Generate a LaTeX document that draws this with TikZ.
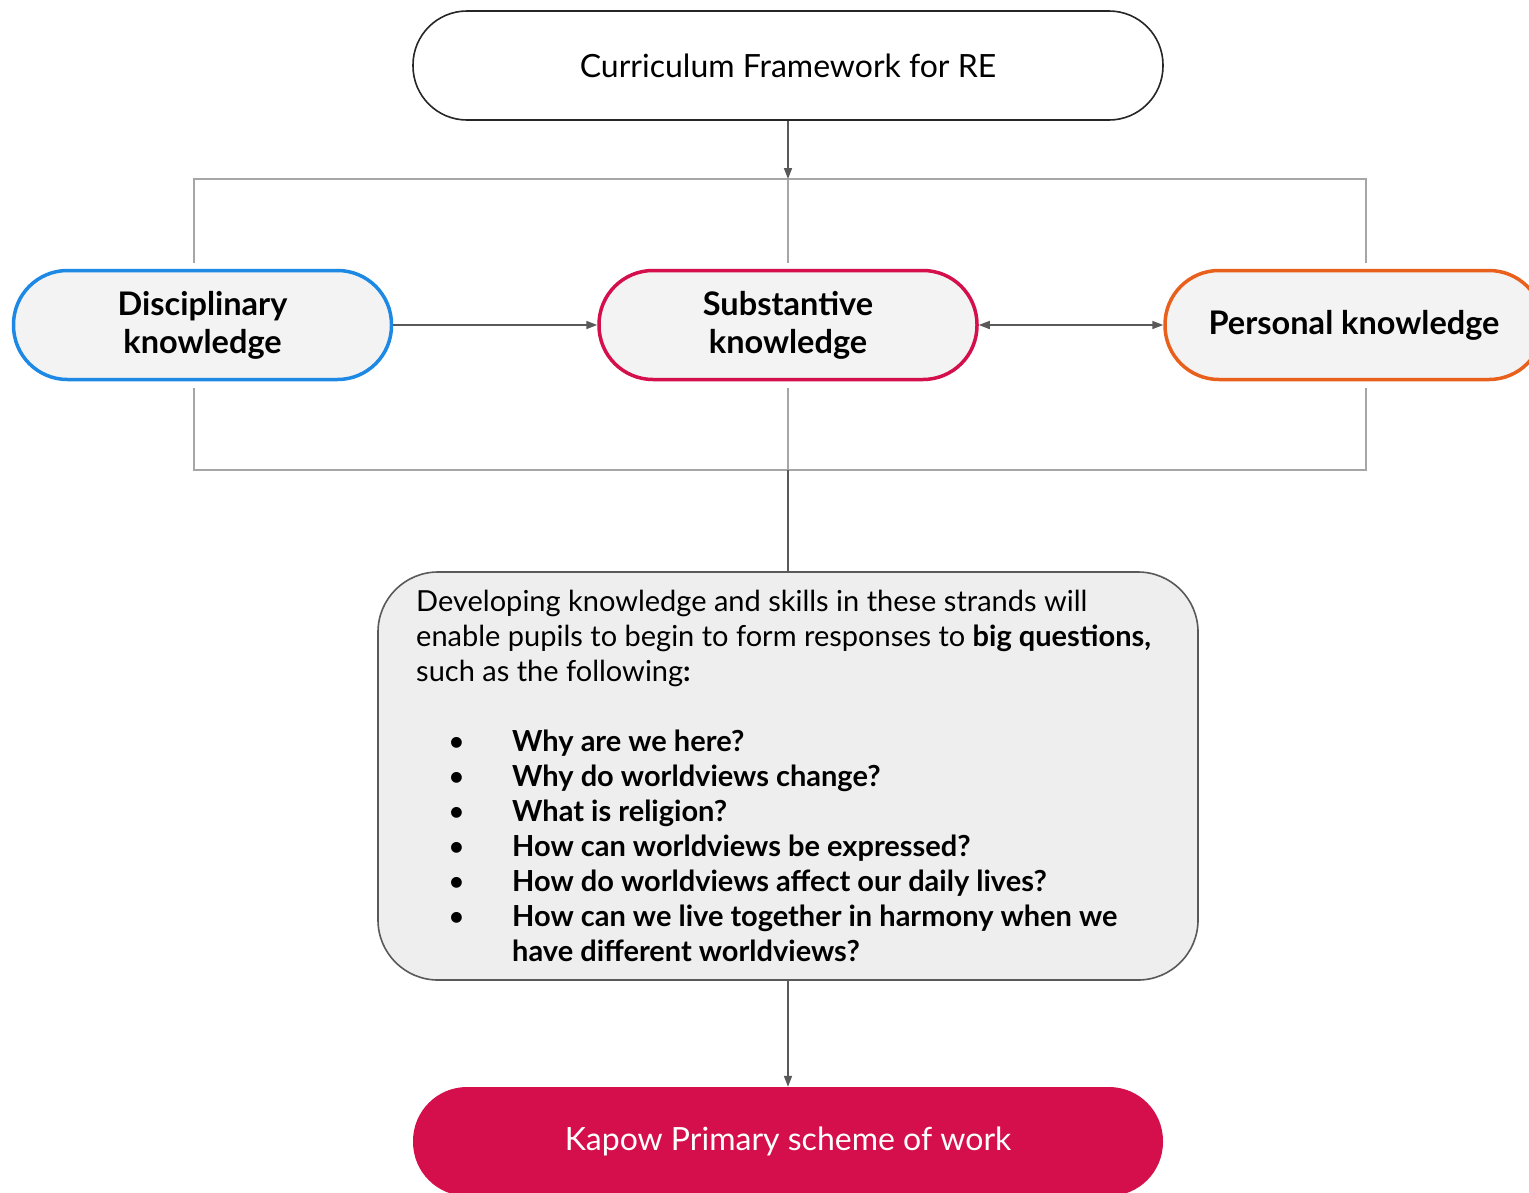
\documentclass[tikz,border=0pt]{standalone}
\usepackage{fontspec}
\setmainfont{Lato}
\usetikzlibrary{arrows.meta,calc}
\definecolor{connc}{HTML}{595959}
\definecolor{framec}{HTML}{A6A6A6}
\definecolor{bluec}{HTML}{1E88E5}
\definecolor{crimc}{HTML}{D50F4B}
\definecolor{orangec}{HTML}{E8601C}
\definecolor{pillfill}{HTML}{F3F3F3}
\definecolor{bigfill}{HTML}{EEEEEE}
\definecolor{bigdraw}{HTML}{595959}
\tikzset{
  pill/.style={rectangle, rounded corners=54pt, minimum height=109pt, inner sep=0pt, align=center},
  strand/.style={pill, minimum width=378pt, fill=pillfill, line width=3.5pt, font=\fontsize{32.5}{38}\selectfont\bfseries},
  conn/.style={draw=connc, line width=1.6pt},
  arr/.style={conn, -{Triangle[length=11pt,width=8pt]}},
  darr/.style={conn, {Triangle[length=11pt,width=8pt]}-{Triangle[length=11pt,width=8pt]}},
  framel/.style={draw=framec, line width=1.8pt},
}
\newcommand\bqitem[1]{\makebox[32pt][l]{}\makebox[64pt][l]{\textbullet}\textbf{#1}}
\begin{document}
\begin{tikzpicture}[x=1pt,y=-1pt]
\useasboundingbox (0,0) rectangle (1529,1192);
\fill[white] (0,0) rectangle (1529,1192);

\node[pill, minimum width=750pt, draw=black!85, line width=1.6pt, fill=white,
  font=\fontsize{32}{38}\selectfont] (top) at (788,65.5) {Curriculum Framework for RE};

\node[strand, draw=bluec] (disc) at (202.5,325) {Disciplinary\\knowledge};
\node[strand, draw=crimc] (sub) at (788,325) {Substantive\\knowledge};
\node[strand, draw=orangec] (pers) at (1354,325) {Personal knowledge};

% frame coordinates
\coordinate (ftl) at (194,179);
\coordinate (ftm) at (788,179);
\coordinate (ftr) at (1366,179);
\coordinate (fbl) at (194,470);
\coordinate (fbm) at (788,470);
\coordinate (fbr) at (1366,470);
\coordinate (lu) at (194,263);
\coordinate (ll) at (194,388);
\coordinate (mu) at (788,263);
\coordinate (ml) at (788,388);
\coordinate (ru) at (1366,263);
\coordinate (rl) at (1366,388);

\draw[framel] (lu) -- (ftl) -- (ftr) -- (ru);
\draw[framel] (ftm) -- (mu);
\draw[framel] (ll) -- (fbl) -- (fbr) -- (rl);
\draw[framel] (ml) -- (fbm);

\draw[arr] (top.south) -- (ftm);
\draw[arr] (disc.east) -- (sub.west);
\draw[darr] (sub.east) -- (pers.west);

\node[rectangle, rounded corners=60pt, minimum width=820pt, minimum height=408pt,
  fill=bigfill, draw=bigdraw, line width=1.6pt] (big) at (788,776) {};
\node[anchor=base west, align=left, inner sep=0pt,
  font=\fontsize{29}{35}\selectfont] (bigtext) at (416,961) {%
Developing knowledge and skills in these strands will\\
enable pupils to begin to form responses to \textbf{big questions,}\\
such as the following\textbf{:}\\[35pt]
\bqitem{Why are we here?}\\
\bqitem{Why do worldviews change?}\\
\bqitem{What is religion?}\\
\bqitem{How can worldviews be expressed?}\\
\bqitem{How do worldviews affect our daily lives?}\\
\bqitem{How can we live together in harmony when we}\\
\makebox[96pt][l]{}\textbf{have different worldviews?}};

\draw[conn] (fbm) -- (big.north);

\node[pill, minimum width=750pt, fill=crimc, text=white,
  font=\fontsize{32}{38}\selectfont] (kapow) at (788,1141.5) {Kapow Primary scheme of work};
\draw[arr] (big.south) -- (kapow.north);
\end{tikzpicture}
\end{document}
